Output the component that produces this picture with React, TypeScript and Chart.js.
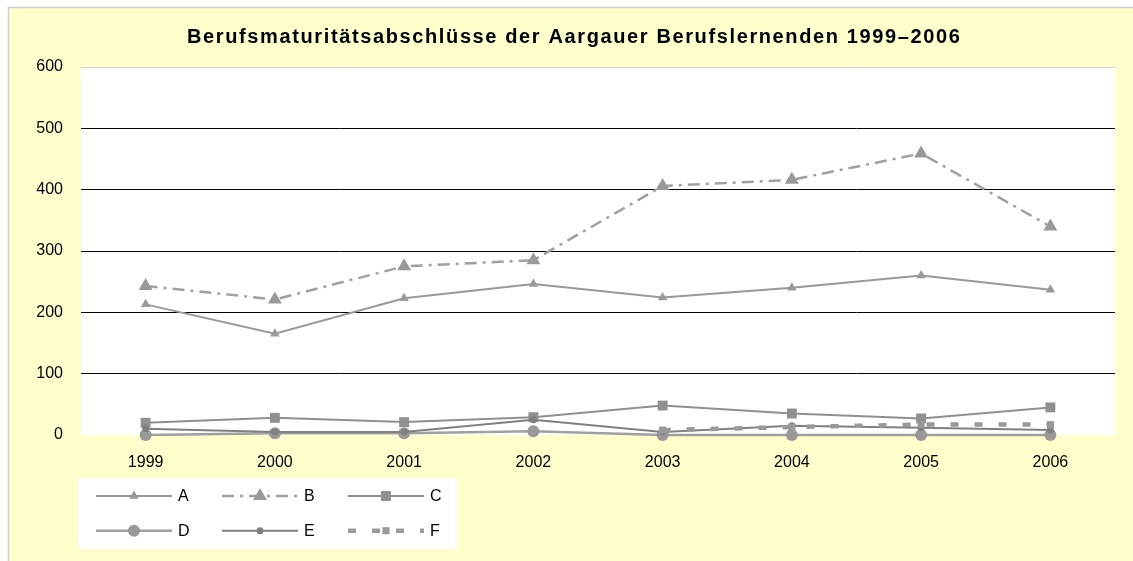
import React, { useEffect, useRef } from 'react';
import { Chart, registerables } from 'chart.js';

Chart.register(...registerables);

const categories = ['1999', '2000', '2001', '2002', '2003', '2004', '2005', '2006'];
const seriesA = [213, 165, 223, 246, 224, 240, 260, 237];
const seriesB = [243, 221, 275, 285, 406, 416, 459, 340];
const seriesC = [20, 28, 21, 29, 48, 35, 27, 45];
const seriesD = [0, 3, 3, 6, 0, 0, 0, 0];
const seriesE = [10, 5, 5, 25, 5, 15, 12, 8];
const seriesF = [null, null, null, null, 8, 13, 17, 17];
const seriesNames = ['A', 'B', 'C', 'D', 'E', 'F'];
const yTicks = [0, 100, 200, 300, 400, 500, 600];
const titleText = 'Berufsmaturitätsabschlüsse der Aargauer Berufslernenden 1999–2006';

const FONT = '"Liberation Sans", Arial, sans-serif';

function drawMarker(ctx: CanvasRenderingContext2D, style: string, x: number, y: number, r: number, color: string) {
  ctx.save();
  ctx.fillStyle = color;
  ctx.setLineDash([]);
  ctx.beginPath();
  if (style === 'triangle') {
    let a = 0;
    ctx.moveTo(x + Math.sin(a) * r, y - Math.cos(a) * r);
    a += (2 * Math.PI) / 3;
    ctx.lineTo(x + Math.sin(a) * r, y - Math.cos(a) * r);
    a += (2 * Math.PI) / 3;
    ctx.lineTo(x + Math.sin(a) * r, y - Math.cos(a) * r);
    ctx.closePath();
  } else if (style === 'rect') {
    const s = Math.SQRT1_2 * r;
    ctx.rect(x - s, y - s, 2 * s, 2 * s);
  } else {
    ctx.arc(x, y, r, 0, Math.PI * 2);
  }
  ctx.fill();
  ctx.restore();
}

const framePlugin = {
  id: 'frame',
  beforeDraw(chart: any) {
    const { ctx, width, height, chartArea } = chart;
    ctx.save();
    ctx.fillStyle = '#ffffff';
    ctx.fillRect(0, 0, width, height);
    ctx.fillStyle = '#ffffcc';
    ctx.fillRect(8, 7, width - 8, height - 7);
    ctx.strokeStyle = '#cfcfcf';
    ctx.lineWidth = 1.5;
    ctx.beginPath();
    ctx.moveTo(8.5, height);
    ctx.lineTo(8.5, 7.5);
    ctx.lineTo(width, 7.5);
    ctx.stroke();
    ctx.fillStyle = '#ffffff';
    ctx.fillRect(chartArea.left, chartArea.top, chartArea.right - chartArea.left, chartArea.bottom - chartArea.top);
    // title
    ctx.font = 'bold 20px ' + FONT;
    ctx.fillStyle = '#000000';
    ctx.textBaseline = 'middle';
    ctx.textAlign = 'left';
    const targetLeft = 187;
    const targetRight = 960;
    const w = ctx.measureText(titleText).width;
    const n = Array.from(titleText).length;
    const ls = Math.max(0, (targetRight - targetLeft - w) / (n - 1));
    (ctx as any).letterSpacing = ls.toFixed(2) + 'px';
    ctx.fillText(titleText, targetLeft, 37);
    (ctx as any).letterSpacing = '0px';
    ctx.restore();
  },
  afterDraw(chart: any) {
    const { ctx } = chart;
    ctx.save();
    ctx.fillStyle = '#ffffff';
    ctx.fillRect(78, 478, 379, 71);
    chart.data.datasets.forEach((ds: any, i: number) => {
      const col = i % 3;
      const row = Math.floor(i / 3);
      const x0 = 96 + col * 126;
      const y = 496 + row * 34.7;
      ctx.save();
      ctx.strokeStyle = ds.borderColor;
      ctx.lineWidth = ds.borderWidth;
      ctx.setLineDash(ds.borderDash || []);
      ctx.lineCap = 'butt';
      ctx.beginPath();
      ctx.moveTo(x0, y);
      ctx.lineTo(x0 + 76, y);
      ctx.stroke();
      ctx.restore();
      drawMarker(ctx, ds.pointStyle, x0 + 38, y, ds.pointRadius, ds.pointBackgroundColor);
      ctx.font = '16px ' + FONT;
      ctx.fillStyle = '#000000';
      ctx.textBaseline = 'middle';
      ctx.textAlign = 'left';
      ctx.fillText(ds.label, x0 + 82, y + 1);
    });
    ctx.restore();
  },
};

export default function App() {
  const ref = useRef<HTMLCanvasElement | null>(null);
  useEffect(() => {
    document.body.style.margin = '0';
    if (!ref.current) return;
    const mk = (i: number, data: any[], color: string, width: number, dash: number[], style: string, r: number, pcolor: string) => ({
      label: seriesNames[i],
      data,
      order: 10 - i,
      clip: false,
      borderColor: color,
      borderWidth: width,
      borderDash: dash,
      borderCapStyle: 'butt',
      pointStyle: style,
      pointRadius: r,
      pointBackgroundColor: pcolor,
      pointBorderColor: pcolor,
      pointBorderWidth: 0,
      pointHoverRadius: r,
      tension: 0,
      fill: false,
    });
    const chart = new Chart(ref.current, {
      type: 'line',
      data: {
        labels: categories,
        datasets: [
          mk(0, seriesA, '#999999', 2, [], 'triangle', 5.5, '#999999'),
          mk(1, seriesB, '#a0a0a0', 2.5, [12, 6, 3, 6], 'triangle', 8, '#999999'),
          mk(2, seriesC, '#909090', 2, [], 'rect', 7, '#909090'),
          mk(3, seriesD, '#a0a0a0', 2.5, [], 'circle', 6, '#999999'),
          mk(4, seriesE, '#808080', 2, [], 'circle', 3.5, '#808080'),
          mk(5, seriesF, '#999999', 4.5, [8, 16], 'rect', 5, '#999999'),
        ] as any,
      },
      options: {
        animation: false,
        responsive: false,
        maintainAspectRatio: false,
        layout: { padding: { left: 0, right: 18, top: 67, bottom: 86 } },
        plugins: {
          legend: { display: false },
          title: { display: false },
          tooltip: { enabled: false },
        },
        scales: {
          x: {
            offset: true,
            grid: { display: false, drawTicks: false },
            border: { display: false },
            ticks: { padding: 18, color: '#000000', font: { family: FONT, size: 16 }, maxRotation: 0, autoSkip: false },
            afterFit: (s: any) => { s.height = 40; },
          },
          y: {
            min: 0,
            max: 600,
            afterBuildTicks: (s: any) => { s.ticks = yTicks.map((v) => ({ value: v })); },
            grid: {
              drawTicks: false,
              lineWidth: 1,
              color: (c: any) => (c.tick && c.tick.value === 0 ? 'rgba(0,0,0,0)' : c.tick && c.tick.value === 600 ? '#cfcfcf' : '#000000'),
            },
            border: { display: false },
            ticks: { padding: 18, color: '#000000', font: { family: FONT, size: 16 } },
            afterFit: (s: any) => { s.width = 81; },
          },
        },
      },
      plugins: [framePlugin],
    });
    return () => chart.destroy();
  }, []);
  return <canvas ref={ref} width={1133} height={561} style={{ display: 'block' }} />;
}
